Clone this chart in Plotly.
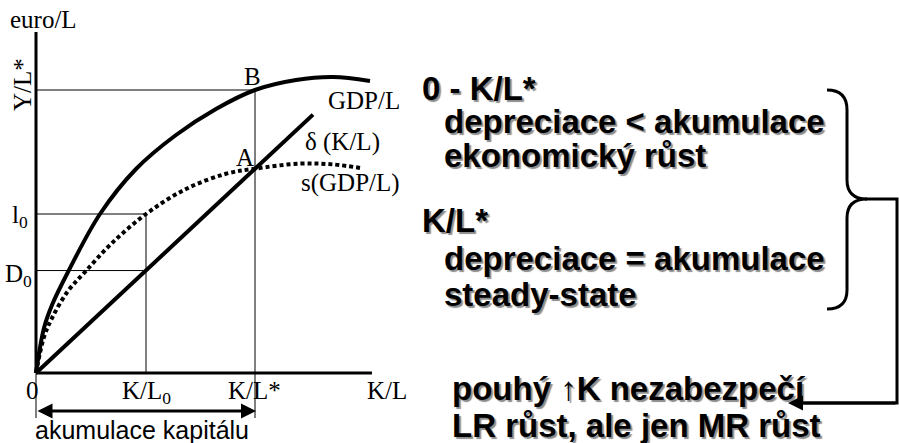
import plotly.graph_objects as go

# ---------------- data (chart units: x = K/L, y = euro/L) ----------------
gdp_k = [0, 0.365, 0.731, 1.461, 2.922, 4.566, 6.393, 8.219, 10.0, 11.872, 13.562, 15.251]
gdp_y = [0, 1.590, 2.403, 3.569, 5.618, 7.208, 8.410, 9.329, 10.0, 10.353, 10.459, 10.318]

sav_k = [0, 0.365, 0.731, 1.461, 2.237, 3.425, 5.023, 6.849, 8.676, 10.0, 12.055, 13.562, 14.932]
sav_y = [0, 1.272, 1.943, 2.898, 3.569, 4.558, 5.618, 6.502, 7.040, 7.220, 7.400, 7.370, 7.230]

dep_k = [0, 12.65]
dep_y = [0, 9.13]

k_star = 10.0     # K/L*
k_zero = 5.023    # K/L0
y_star = 10.0     # Y/L*
i_zero = 5.618    # l0
d_zero = 3.62     # D0

x_axis_end = 15.34
y_axis_end = 12.05
below = -1.59      # guide lines reach down to the "akumulace" arrow

# ---------------- geometry of the page ----------------
W, H = 899, 443
OX, OY = 36, 373          # origin in pixels
SX, SY = 21.9, 28.3       # pixels per unit

xr = [(0 - OX) / SX, (W - OX) / SX]
yr = [(OY - H) / SY, OY / SY]

fig = go.Figure()

def line(xs, ys, width=1, dash=None):
    fig.add_trace(go.Scatter(x=xs, y=ys, mode="lines", hoverinfo="skip",
                             line=dict(color="black", width=width, dash=dash),
                             showlegend=False))

# thin guide lines
line([0, k_star], [y_star, y_star])
line([k_star, k_star], [y_star, below])
line([0, k_zero], [i_zero, i_zero])
line([k_zero, k_zero], [i_zero, 0])
line([0, k_zero], [d_zero, d_zero])
line([0, 0], [0, below])
# axes
line([0, 0], [0, y_axis_end], width=3)
line([0, x_axis_end], [0, 0], width=3)
# curves
fig.add_trace(go.Scatter(x=gdp_k, y=gdp_y, mode="lines", hoverinfo="skip",
                         line=dict(color="black", width=4, shape="spline", smoothing=1.0),
                         showlegend=False))
fig.add_trace(go.Scatter(x=sav_k, y=sav_y, mode="lines", hoverinfo="skip",
                         line=dict(color="black", width=4, shape="spline", smoothing=1.0,
                                   dash="4px,3px"),
                         showlegend=False))
line(dep_k, dep_y, width=4)

# ---------------- text ----------------
serif = dict(family="Liberation Serif", size=25, color="black")
annos = []

def txt(text, x, y, font, xanchor="center", yanchor="middle", angle=0):
    annos.append(dict(text=text, x=x, y=y, xref="x2", yref="y2", showarrow=False,
                      font=font, xanchor=xanchor, yanchor=yanchor, textangle=angle))

txt("euro/L", 43, 19, serif)
txt("Y/L*", 22, 85, serif, angle=-90)
txt("l<sub>0</sub>", 20, 216, serif)
txt("D<sub>0</sub>", 18, 275, serif)
txt("0", 32, 390, serif)
txt("K/L<sub>0</sub>", 146, 392, serif)
txt("K/L*", 254, 390, serif)
txt("K/L", 387, 390, serif)
txt("B", 252, 76, serif)
txt("A", 245, 157, serif)
txt("GDP/L", 364, 100, serif)
txt("δ (K/L)", 342, 142, serif)
txt("s(GDP/L)", 350, 183, serif)

txt("akumulace kapitálu", 142, 430,
    dict(family="Liberation Sans", size=25, color="black"))

bold = dict(family="Liberation Sans", size=33, color="black", weight="bold",
            shadow="2px 2px 1px #8c8c8c")
right_lines = [
    ("0 - K/L*", 420, 88),
    ("depreciace < akumulace", 442, 121),
    ("ekonomický růst", 442, 155),
    ("K/L*", 420, 220),
    ("depreciace = akumulace", 442, 258),
    ("steady-state", 442, 294),
    ("pouhý ↑K nezabezpečí", 450, 388),
    ("LR růst, ale jen MR růst", 450, 425),
]
for t, x, y in right_lines:
    txt(t, x, y, bold, xanchor="left")

# arrows
annos.append(dict(x=256, y=411, ax=36, ay=411, xref="x2", yref="y2",
                  axref="x2", ayref="y2", showarrow=True, text="",
                  arrowhead=2, arrowside="end+start", arrowwidth=3, arrowsize=1,
                  arrowcolor="black"))
annos.append(dict(x=788, y=403, ax=897, ay=403, xref="x2", yref="y2",
                  axref="x2", ayref="y2", showarrow=True, text="",
                  arrowhead=2, arrowwidth=3, arrowsize=1, arrowcolor="black"))

shapes = [
    dict(type="path", xref="x2", yref="y2",
         path="M 827 90 Q 847 90 847 110 L 847 180 Q 847 199 867 199 "
              "Q 847 199 847 218 L 847 290 Q 847 309 827 309",
         line=dict(color="black", width=3)),
    dict(type="path", xref="x2", yref="y2",
         path="M 865 199 L 897 199 L 897 403 L 800 403",
         line=dict(color="black", width=3)),
]

fig.update_layout(
    width=W, height=H, margin=dict(l=0, r=0, t=0, b=0),
    paper_bgcolor="white", plot_bgcolor="white",
    xaxis=dict(range=xr, visible=False, fixedrange=True),
    yaxis=dict(range=yr, visible=False, fixedrange=True),
    xaxis2=dict(range=[0, W], visible=False, overlaying="x", fixedrange=True),
    yaxis2=dict(range=[H, 0], visible=False, overlaying="y", fixedrange=True),
    annotations=annos, shapes=shapes,
)
fig.write_html("out.html", config={"displayModeBar": False},
               post_script="document.body.style.margin='0px'; document.body.style.overflow='hidden';")
